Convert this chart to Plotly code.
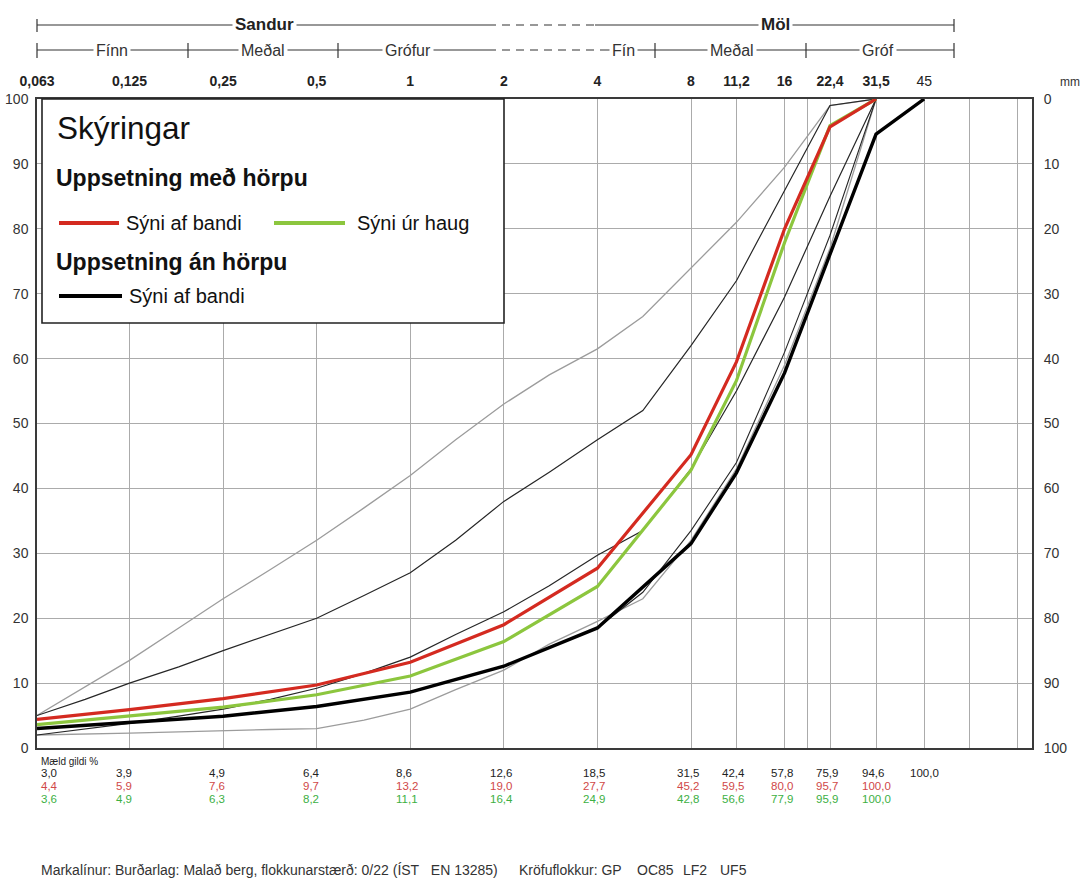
import numpy as np
import plotly.graph_objects as go

# Sieve sizes (mm) and measured passing percentages
sieves = [0.063, 0.125, 0.25, 0.5, 1, 2, 4, 8, 11.2, 16, 22.4, 31.5, 45]
pass_an_horpu = [3.0, 3.9, 4.9, 6.4, 8.6, 12.6, 18.5, 31.5, 42.4, 57.8, 75.9, 94.6, 100.0]
pass_band_horpa = [4.4, 5.9, 7.6, 9.7, 13.2, 19.0, 27.7, 45.2, 59.5, 80.0, 95.7, 100.0]
pass_haug_horpa = [3.6, 4.9, 6.3, 8.2, 11.1, 16.4, 24.9, 42.8, 56.6, 77.9, 95.9, 100.0]

# Grading limit lines (Markalínur)
lim_sieves = [0.063, 0.09, 0.125, 0.18, 0.25, 0.355, 0.5, 0.71, 1, 1.4, 2, 2.8,
              4, 5.6, 8, 11.2, 16, 22.4, 31.5]
lim_outer_upper = [5.0, 9.4, 13.5, 18.5, 23.0, 27.5, 32.0, 37.0, 42.0, 47.5, 53.0, 57.5,
                   61.5, 66.5, 74.0, 81.0, 89.5, 99.0, 100.0]
lim_inner_upper = [5.0, 7.5, 10.0, 12.5, 15.0, 17.5, 20.0, 23.5, 27.0, 32.0, 38.0, 42.5,
                   47.5, 52.0, 62.0, 72.0, 86.0, 99.0, 100.0]
lim_inner_lower = [2.0, 2.9, 3.8, 4.9, 6.0, 7.5, 9.2, 11.5, 14.0, 17.5, 21.0, 25.0,
                   29.7, 33.5, 43.0, 55.0, 69.5, 85.0, 100.0]
lim_outer_lower = [2.0, 2.1, 2.3, 2.5, 2.7, 2.85, 3.0, 4.3, 6.0, 9.0, 12.0, 16.0,
                   19.5, 23.0, 32.0, 43.0, 59.0, 77.0, 100.0]
# coarse-fraction lower limit
lim_coarse_sieves = [2, 2.8, 4, 5.6, 8, 11.2, 16, 22.4, 31.5]
lim_coarse_lower = [12.6, 15.5, 18.5, 24.0, 33.5, 44.0, 61.0, 79.0, 100.0]

# Extra unlabeled sieve grid lines
extra_grid = [19, 63, 90]

# Size-class header
header_main = [("Sandur", 264), ("Möl", 775)]
header_sub = [("Fínn", 112), ("Meðal", 263), ("Grófur", 408), ("Fín", 623), ("Meðal", 732), ("Gróf", 878)]
header_sub_ticks = [37, 188, 338, 655, 806, 954]

footer = "Markalínur: Burðarlag: Malað berg, flokkunarstærð: 0/22 (ÍST\u00a0\u00a0\u00a0EN 13285)"
footer_req = [("Kröfuflokkur: GP", 518), ("OC85", 636), ("LF2", 682), ("UF5", 719)]

FONT = "Liberation Sans, Arial, sans-serif"
W, H = 1083, 886
L, R, T, B = 37, 1032, 99, 748


def px(xp):
    return (xp - L) / (R - L)


def py(yp):
    return (B - yp) / (B - T)


def fmt(v):
    return f"{v:g}".replace(".", ",")


def fmt1(v):
    return f"{v:.1f}".replace(".", ",")


fig = go.Figure()

GREY = "#9c9c9c"
THIN = "#262626"
for xs, ys, col, w in [(lim_sieves, lim_outer_upper, GREY, 1.3),
                       (lim_sieves, lim_outer_lower, GREY, 1.3),
                       (lim_sieves, lim_inner_upper, THIN, 1.2),
                       (lim_sieves, lim_inner_lower, THIN, 1.2),
                       (lim_coarse_sieves, lim_coarse_lower, THIN, 1.1)]:
    fig.add_trace(go.Scatter(x=xs, y=ys, mode="lines",
                             line=dict(color=col, width=w),
                             showlegend=False, hoverinfo="skip"))

fig.add_trace(go.Scatter(x=sieves[:len(pass_haug_horpa)], y=pass_haug_horpa, mode="lines",
                         line=dict(color="#8cc63e", width=3.2), showlegend=False))
fig.add_trace(go.Scatter(x=sieves[:len(pass_band_horpa)], y=pass_band_horpa, mode="lines",
                         line=dict(color="#d42a20", width=3.2), showlegend=False))
fig.add_trace(go.Scatter(x=sieves, y=pass_an_horpu, mode="lines",
                         line=dict(color="#000000", width=3.4), showlegend=False))
# carrier for the right-hand (retained %) axis
fig.add_trace(go.Scatter(x=[sieves[0]], y=[0], yaxis="y2", mode="markers",
                         marker=dict(opacity=0), showlegend=False, hoverinfo="skip"))

shapes = []
annotations = []


def hline(x0, x1, y, dash="solid"):
    shapes.append(dict(type="line", xref="paper", yref="paper", x0=px(x0), x1=px(x1),
                       y0=py(y), y1=py(y), line=dict(color="#333", width=1.2, dash=dash)))


def vtick(x, y0, y1):
    shapes.append(dict(type="line", xref="paper", yref="paper", x0=px(x), x1=px(x),
                       y0=py(y0), y1=py(y1), line=dict(color="#333", width=1.2)))


def label(text, x, y, size, color="#222", xanchor="left", bg=None, xref="paper", xshift=0):
    d = dict(text=text, x=x, y=y, xref=xref, yref="paper", showarrow=False,
             xanchor=xanchor, yanchor="middle", align="left", borderpad=0, xshift=xshift,
             font=dict(family=FONT, size=size, color=color))
    if bg:
        d["bgcolor"] = bg
        d["borderpad"] = 2
    annotations.append(d)


# header bars
hline(37, 488, 25)
hline(488, 595, 25, "8px,6px")
hline(595, 954, 25)
vtick(37, 19, 32)
vtick(954, 19, 32)
hline(37, 488, 50)
hline(488, 604, 50, "8px,6px")
hline(604, 954, 50)
for xt in header_sub_ticks:
    vtick(xt, 43, 58)

for txt, xc in header_main:
    label(f"<b>{txt}</b>", px(xc), py(25), 17, "#222", "center", "white")
for txt, xc in header_sub:
    label(txt, px(xc), py(50), 16, "#333", "center", "white")

label("mm", px(1059), py(82), 12, "#333")

# legend box
shapes.append(dict(type="rect", xref="paper", yref="paper", x0=px(42), x1=px(504),
                   y0=py(99), y1=py(323), fillcolor="white",
                   line=dict(color="#222", width=1.6), layer="above"))
for x0, x1, yy, col in [(59, 119, 223, "#d42a20"), (274, 345, 223, "#8cc63e"), (59, 122, 296, "#000")]:
    shapes.append(dict(type="line", xref="paper", yref="paper", x0=px(x0), x1=px(x1),
                       y0=py(yy), y1=py(yy), line=dict(color=col, width=4), layer="above"))

leg_text = [("Skýringar", 56, 128, 31.5, False),
            ("Uppsetning með hörpu", 55, 178, 23, True),
            ("Sýni af bandi", 125, 223, 20, False),
            ("Sýni úr haug", 356, 223, 20, False),
            ("Uppsetning án hörpu", 55, 262, 23, True),
            ("Sýni af bandi", 128, 296, 20, False)]
for txt, x0, yc, sz, bold in leg_text:
    label(f"<b>{txt}</b>" if bold else txt, px(x0), py(yc), sz, "#111")

# measured-values table under the chart
label("Mæld gildi %", px(40), py(761), 10, "#222")
for vals, col, yrow in [(pass_an_horpu, "#222", 773), (pass_band_horpa, "#d04848", 786),
                        (pass_haug_horpa, "#3cb043", 799)]:
    for i, (s, v) in enumerate(zip(sieves, vals)):
        label(fmt1(v), np.log10(s), py(yrow), 11.5, col, "left", xref="x",
              xshift=3 if i == 0 else -15)

label(footer, px(40), py(870), 14, "#333")
for txt, x0 in footer_req:
    label(txt, px(x0), py(870), 14, "#333")

ticktext = [f"<b>{fmt(s)}</b>" if s != 45 else fmt(s) for s in sieves]
yt = list(range(0, 101, 10))

fig.update_layout(
    width=W, height=H, autosize=False,
    margin=dict(l=L, r=W - R, t=T, b=H - B, pad=0),
    plot_bgcolor="white", paper_bgcolor="white",
    shapes=shapes, annotations=annotations,
    xaxis=dict(type="log", range=[np.log10(0.063), np.log10(100)], side="top",
               tickmode="array", tickvals=sieves, ticktext=ticktext,
               tickfont=dict(family=FONT, size=14, color="#222"),
               ticks="outside", ticklen=6, tickcolor="rgba(0,0,0,0)",
               showgrid=True, gridcolor="#ababab", gridwidth=1,
               minor=dict(tickmode="array", tickvals=extra_grid, showgrid=True,
                          gridcolor="#ababab", gridwidth=1, ticks=""),
               showline=True, mirror=True, linecolor="#3a3a3a", linewidth=1.5,
               zeroline=False, automargin=False),
    yaxis=dict(range=[0, 100], tickmode="array", tickvals=yt,
               tickfont=dict(family=FONT, size=14, color="#333"),
               ticks="outside", ticklen=4, tickcolor="rgba(0,0,0,0)",
               showgrid=True, gridcolor="#ababab", gridwidth=1,
               showline=True, mirror=True, linecolor="#3a3a3a", linewidth=1.5,
               zeroline=False, automargin=False),
    yaxis2=dict(range=[0, 100], overlaying="y", side="right", tickmode="array",
                tickvals=yt, ticktext=[str(100 - v) for v in yt],
                tickfont=dict(family=FONT, size=14, color="#333"),
                ticks="outside", ticklen=8, tickcolor="rgba(0,0,0,0)",
                showgrid=False, zeroline=False, showline=False, automargin=False),
)

fig.write_html("out.html")
